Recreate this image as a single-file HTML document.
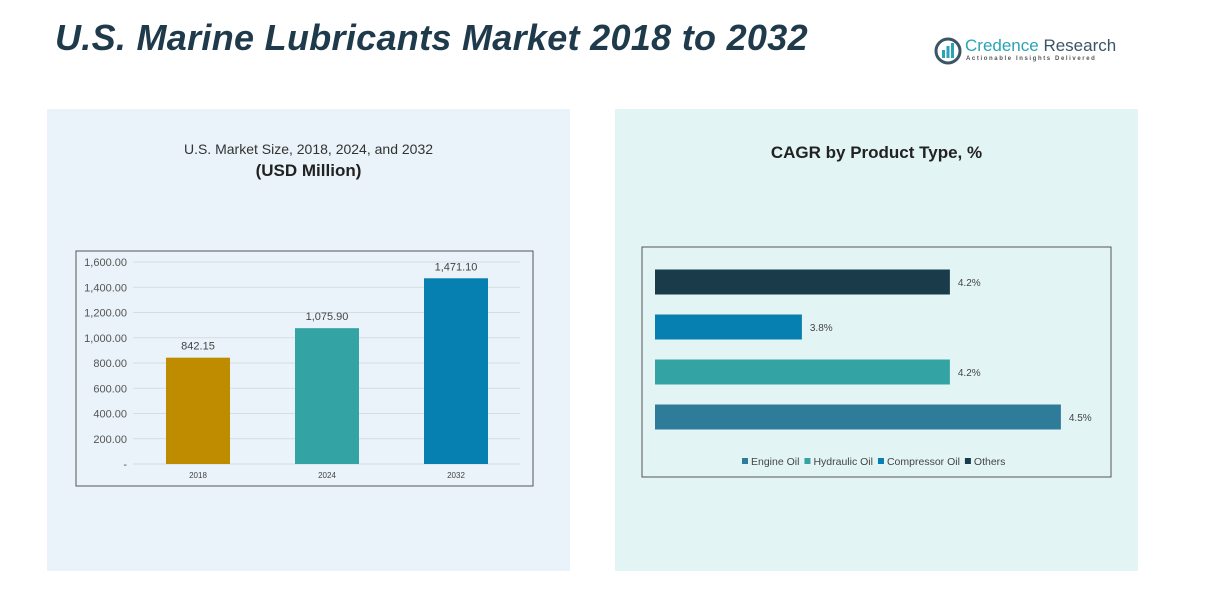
<!DOCTYPE html>
<html><head><meta charset="utf-8"><style>
body{margin:0;width:1212px;height:597px;background:#fff;position:relative;overflow:hidden;font-family:"Liberation Sans",sans-serif}
.abs{position:absolute}
</style></head><body>
<div class="abs" style="left:55px;top:17px;font-size:36px;letter-spacing:0.3px;font-weight:bold;font-style:italic;color:#1f3a4b;white-space:nowrap">U.S. Marine Lubricants Market 2018 to 2032</div>
<div class="abs" style="left:934px;top:36px;width:180px;height:30px">
<svg width="30" height="30" style="position:absolute;left:0;top:0"><circle cx="14" cy="15" r="12" fill="none" stroke="#3a5566" stroke-width="3"/><rect x="8" y="14" width="3" height="8" fill="#2aa3b5"/><rect x="12.5" y="10" width="3" height="12" fill="#2aa3b5"/><rect x="17" y="7" width="3" height="15" fill="#2aa3b5"/></svg>
<div style="position:absolute;left:31px;top:0;font-size:17px;color:#2aa3b5;white-space:nowrap">Credence <span style="color:#3a5566">Research</span></div>
<div style="position:absolute;left:32px;top:20px;font-size:6px;letter-spacing:1.6px;color:#555;white-space:nowrap;font-weight:bold">Actionable Insights Delivered</div>
</div>
<div class="abs" style="left:47px;top:109px;width:523px;height:462px;background:#e9f3f9"></div>
<div class="abs" style="left:615px;top:109px;width:523px;height:462px;background:#e3f4f5"></div>
<div class="abs" style="left:47px;top:141px;width:523px;text-align:center;font-size:14px;color:#333">U.S. Market Size, 2018, 2024, and 2032</div>
<div class="abs" style="left:47px;top:161px;width:523px;text-align:center;font-size:17px;font-weight:bold;color:#222">(USD Million)</div>
<div class="abs" style="left:615px;top:143px;width:523px;text-align:center;font-size:17px;font-weight:bold;color:#222">CAGR by Product Type, %</div>
<svg class="abs" style="left:0;top:0" width="1212" height="597" id="svg"></svg>
<script>
const years=["2018","2024","2032"];
const sizes=[842.15,1075.9,1471.1];
const sizeLabels=["842.15","1,075.90","1,471.10"];
const yTicks=[0,200,400,600,800,1000,1200,1400,1600];
const yTickLabels=["-","200.00","400.00","600.00","800.00","1,000.00","1,200.00","1,400.00","1,600.00"];
const barColors=["#bf8c00","#34a3a3","#0680b0"];
const types=["Others","Compressor Oil","Hydraulic Oil","Engine Oil"];
const cagr=[4.2,3.8,4.2,4.5];
const cagrLabels=["4.2%","3.8%","4.2%","4.5%"];
const typeColors=["#1a3b4a","#0680b0","#34a3a3","#2f7b9a"];
const legendOrder=["Engine Oil","Hydraulic Oil","Compressor Oil","Others"];
const legendColors=["#2f7b9a","#34a3a3","#0680b0","#1a3b4a"];
const NS="http://www.w3.org/2000/svg",svg=document.getElementById('svg');
function mk(t,a,txt){const e=document.createElementNS(NS,t);for(const k in a)e.setAttribute(k,a[k]);if(txt!=null)e.textContent=txt;svg.appendChild(e);return e;}
let f=mk('rect',{x:76,y:251,width:457,height:235,fill:'none',stroke:'#555','stroke-width':1});

const y=v=>464-v*(464-262)/1600, xc=i=>198+i*129;
yTicks.forEach((t,i)=>{let g=mk('line',{x1:133,x2:520,y1:y(t),y2:y(t),stroke:'#d5dde2','stroke-width':1});

let l=mk('text',{x:127,y:y(t)+4,'text-anchor':'end','font-size':11,fill:'#555'},yTickLabels[i]);
});
years.forEach((c,i)=>{let b=mk('rect',{x:xc(i)-32,y:y(sizes[i]),width:64,height:464-y(sizes[i]),fill:barColors[i]});

let v=mk('text',{x:xc(i),y:y(sizes[i])-8,'text-anchor':'middle','font-size':11,fill:'#444'},sizeLabels[i]);

let xl=mk('text',{x:xc(i),y:478,'text-anchor':'middle','font-size':8,fill:'#444'},c);
});
let f2=mk('rect',{x:642,y:247,width:469,height:230,fill:'none',stroke:'#555','stroke-width':1});

const xs=v=>655+(v-3.403)*370, yc=i=>282+i*45;
types.forEach((t,i)=>{let b=mk('rect',{x:655,y:yc(i)-12.5,width:xs(cagr[i])-655,height:25,fill:typeColors[i]});

let v=mk('text',{x:xs(cagr[i])+8,y:yc(i)+4,'font-size':10,fill:'#444'},cagrLabels[i]);
});
let lx=742;
legendOrder.forEach((t,i)=>{let s=mk('rect',{x:lx,y:458,width:6,height:6,fill:legendColors[i]});

let tx=mk('text',{x:lx+9,y:465,'font-size':10.5,fill:'#444'},t);

lx+=9+tx.getComputedTextLength()+5;});
</script>
</body></html>
